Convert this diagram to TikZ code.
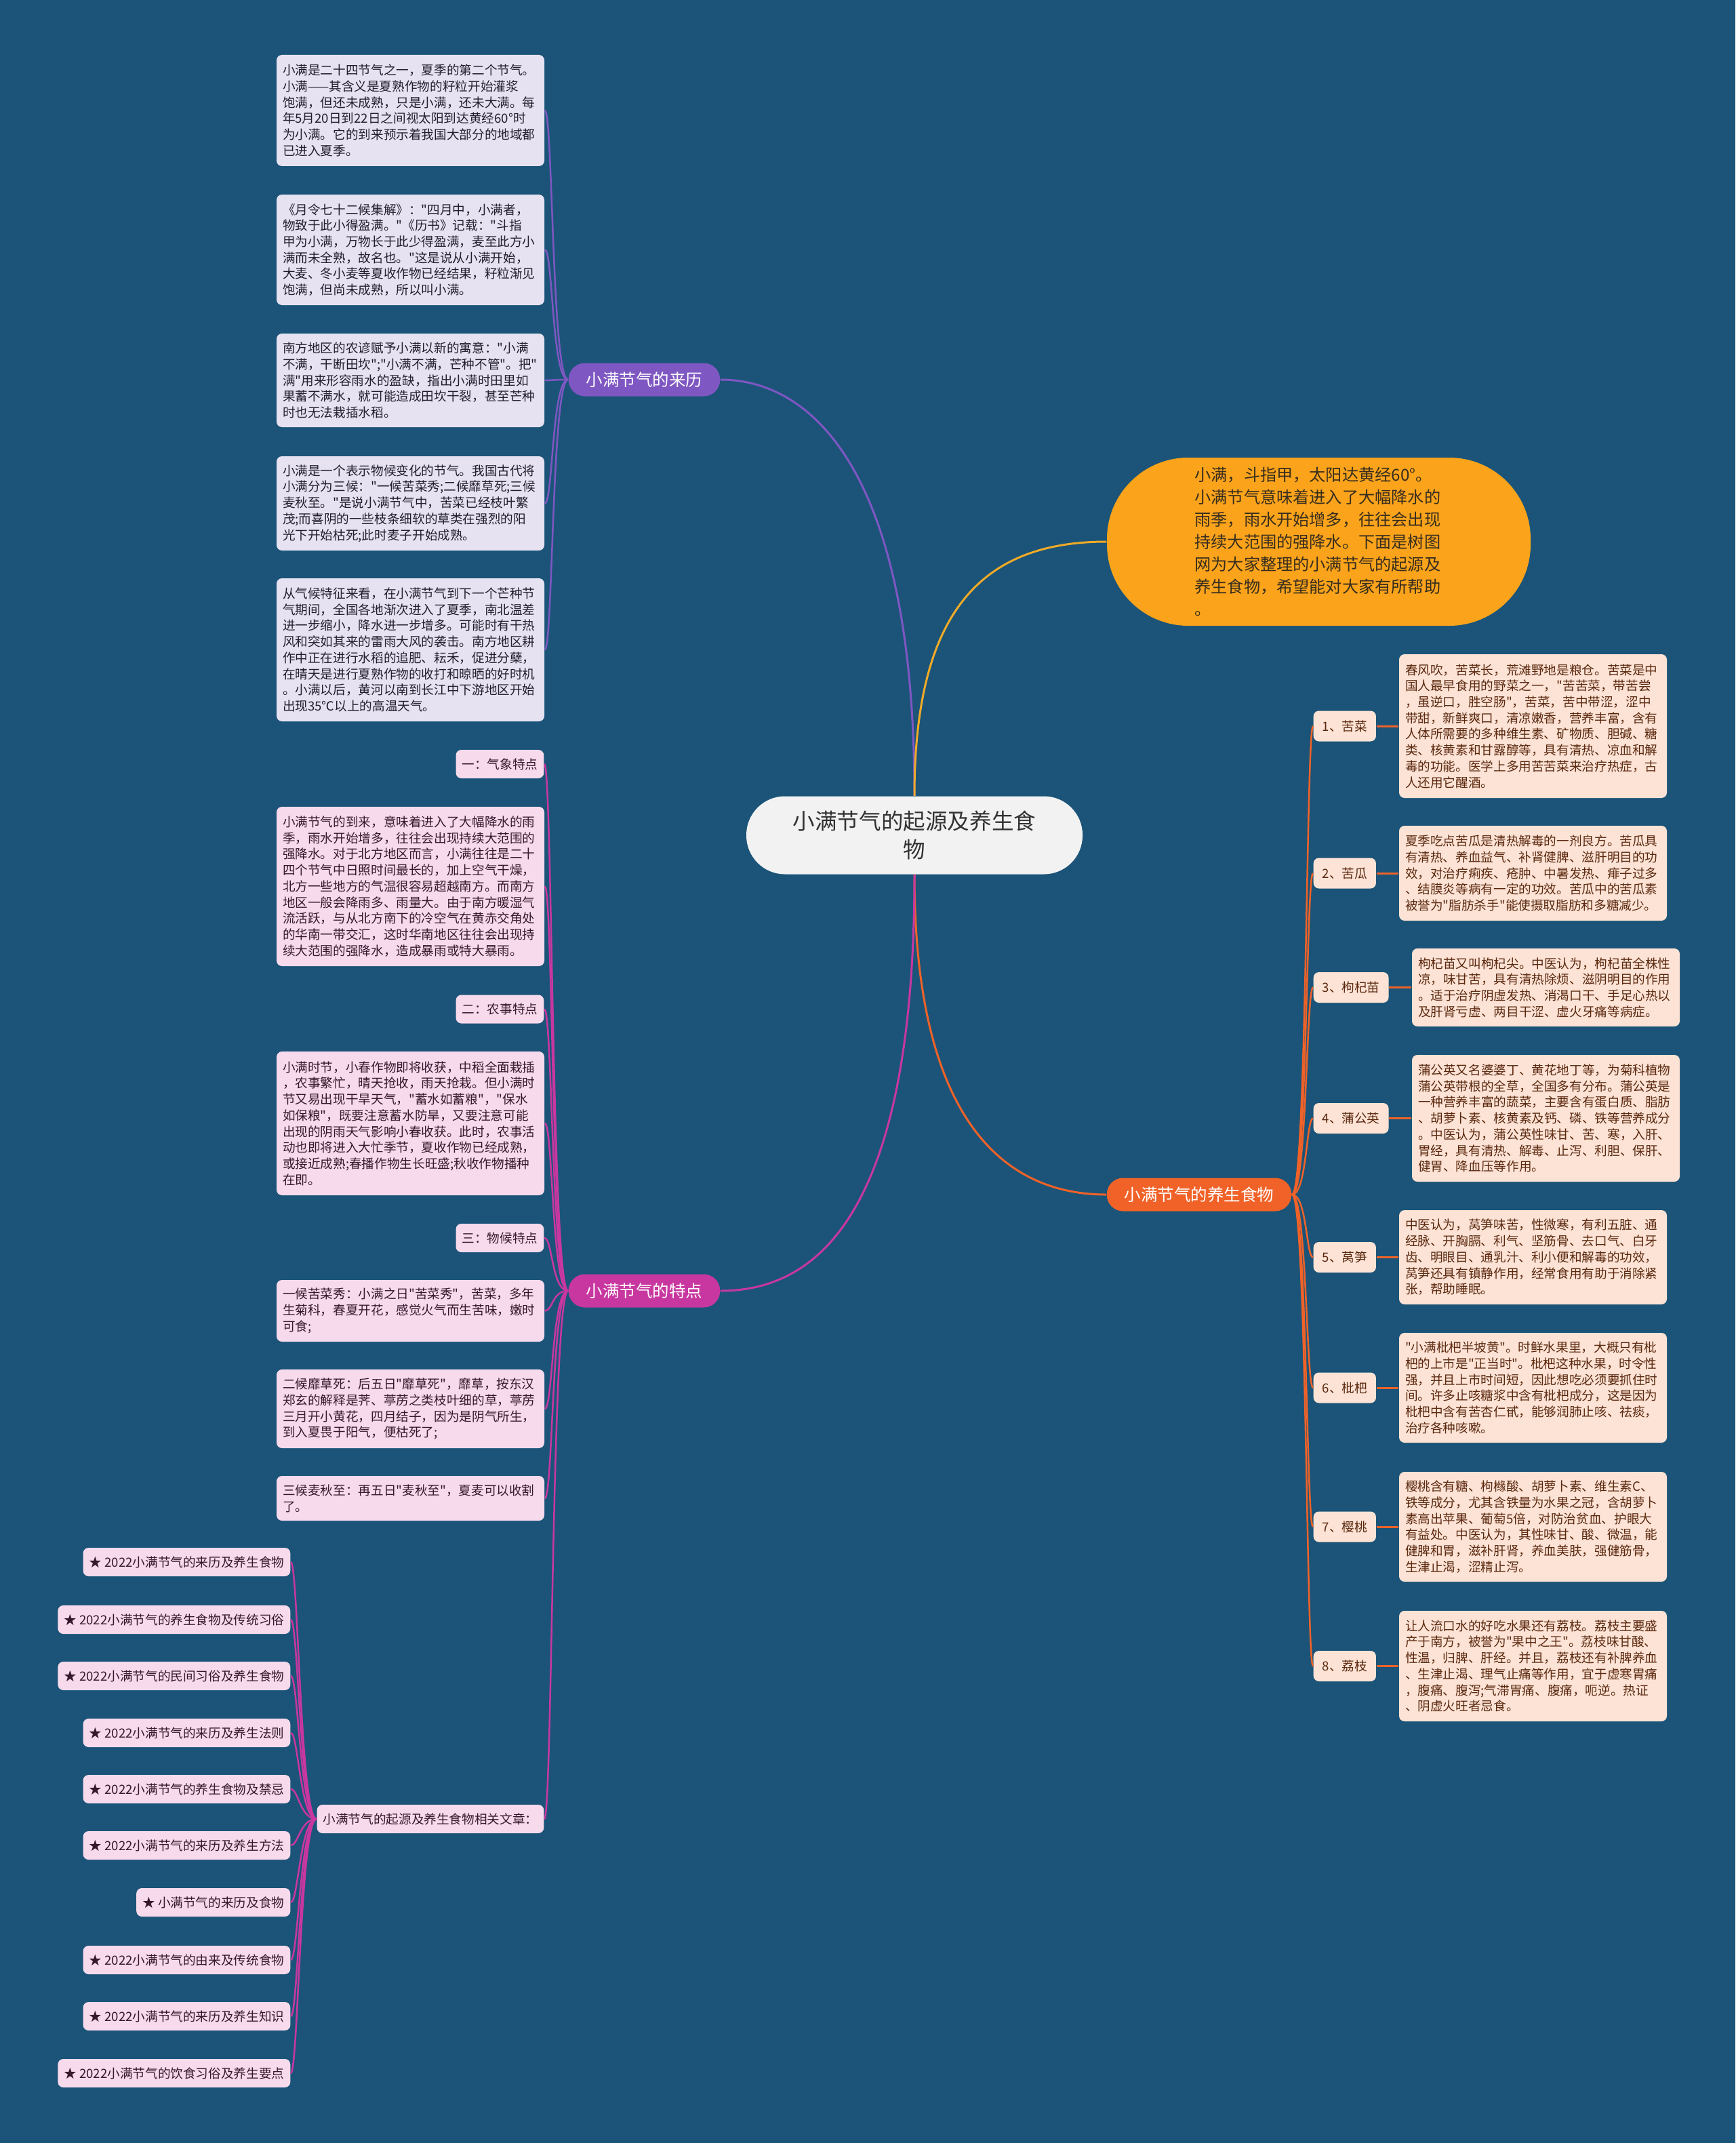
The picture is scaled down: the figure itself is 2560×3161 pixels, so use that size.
\documentclass[tikz,border=0pt]{standalone}
\usepackage{fontspec}
\newfontfamily\cjk{Noto Sans CJK SC}
\usetikzlibrary{calc}

\definecolor{bgblue}{RGB}{27,84,120}
\definecolor{lavfill}{RGB}{230,226,242}
\definecolor{pinkfill}{RGB}{247,218,236}
\definecolor{peachfill}{RGB}{253,227,213}
\definecolor{ctrfill}{RGB}{242,242,242}
\definecolor{introfill}{RGB}{250,163,27}
\definecolor{purp}{RGB}{126,87,194}
\definecolor{mag}{RGB}{200,55,160}
\definecolor{redor}{RGB}{240,98,40}
\definecolor{yell}{RGB}{240,170,40}
\definecolor{lavtext}{RGB}{35,30,45}
\definecolor{pinktext}{RGB}{55,25,45}
\definecolor{peachtext}{RGB}{90,40,15}
\definecolor{introtext}{RGB}{55,45,30}
\definecolor{ctrtext}{RGB}{50,50,50}

\begin{document}
\begin{tikzpicture}[x=0.1mm, y=-0.1mm,
        every node/.style={font=\cjk, inner sep=0pt},
        small/.style={font=\cjk\fontsize{5.3}{6.75}\selectfont},
        descbox/.style={small, rounded corners=0.8mm, minimum width=39.5mm,
            text width=37.7mm, inner xsep=0.9mm, align=left},
        laibox/.style={descbox, fill=lavfill, text=lavtext},
        tebox/.style={descbox, fill=pinkfill, text=pinktext},
        shibox/.style={descbox, fill=peachfill, text=peachtext},
        tetag/.style={small, rounded corners=0.8mm, fill=pinkfill, text=pinktext,
            inner xsep=0.9mm, minimum height=4.2mm},
        shitag/.style={small, rounded corners=0.8mm, fill=peachfill, text=peachtext,
            inner xsep=1.3mm, minimum height=4.5mm},
        branch/.style={font=\cjk\fontsize{6.97}{8}\selectfont, text=white,
            rounded corners=2.4mm, inner xsep=2.6mm, minimum height=4.9mm},
        link/.style={line width=0.25mm},
        mainlink/.style={line width=0.3mm}
    ]
        \fill[bgblue] (0,0) rectangle (2560,3161);
        \useasboundingbox (0,0) rectangle (2560,3161);

        % centre and the intro bubble
        \node[fill=ctrfill, text=ctrtext, rounded corners=5.7mm, minimum width=49.6mm,
            minimum height=11.5mm, align=center,
            font=\cjk\fontsize{9.27}{11.95}\selectfont] (ctr) at (1349,1232)
            {小满节气的起源及养生食\\物};
        \node[fill=introfill, text=introtext, rounded corners=12mm, minimum width=62.5mm,
            minimum height=24.8mm, text width=36.6mm, align=left,
            font=\cjk\fontsize{6.88}{9.36}\selectfont] (intro) at (1945.5,799)
            {小满，斗指甲，太阳达黄经60°。\\
            小满节气意味着进入了大幅降水的\\
            雨季，雨水开始增多，往往会出现\\
            持续大范围的强降水。下面是树图\\
            网为大家整理的小满节气的起源及\\
            养生食物，希望能对大家有所帮助\\
            。};

        \node[branch, fill=purp, minimum width=22.3mm] (laili) at (950.5,560) {小满节气的来历};
        \node[branch, fill=mag, minimum width=22.3mm] (tedian) at (950.5,1904) {小满节气的特点};
        \node[branch, fill=redor, minimum width=27.2mm] (shiwu) at (1769,1762) {小满节气的养生食物};

        % 来历
        \node[laibox, minimum height=16.4mm] (lai1) at (605.5,163)
            {小满是二十四节气之一，夏季的第二个节气。\\
            小满——其含义是夏熟作物的籽粒开始灌浆\\
            饱满，但还未成熟，只是小满，还未大满。每\\
            年5月20日到22日之间视太阳到达黄经60°时\\
            为小满。它的到来预示着我国大部分的地域都\\
            已进入夏季。};
        \node[laibox, minimum height=16.3mm] (lai2) at (605.5,368.5)
            {《月令七十二候集解》："四月中，小满者，\\
            物致于此小得盈满。"《历书》记载："斗指\\
            甲为小满，万物长于此少得盈满，麦至此方小\\
            满而未全熟，故名也。"这是说从小满开始，\\
            大麦、冬小麦等夏收作物已经结果，籽粒渐见\\
            饱满，但尚未成熟，所以叫小满。};
        \node[laibox, minimum height=13.8mm] (lai3) at (605.5,561)
            {南方地区的农谚赋予小满以新的寓意："小满\\
            不满，干断田坎";"小满不满，芒种不管"。把"\\
            满"用来形容雨水的盈缺，指出小满时田里如\\
            果蓄不满水，就可能造成田坎干裂，甚至芒种\\
            时也无法栽插水稻。};
        \node[laibox, minimum height=13.9mm] (lai4) at (605.5,742.5)
            {小满是一个表示物候变化的节气。我国古代将\\
            小满分为三候："一候苦菜秀;二候靡草死;三候\\
            麦秋至。"是说小满节气中，苦菜已经枝叶繁\\
            茂;而喜阴的一些枝条细软的草类在强烈的阳\\
            光下开始枯死;此时麦子开始成熟。};
        \node[laibox, minimum height=21.1mm] (lai5) at (605.5,958.5)
            {从气候特征来看，在小满节气到下一个芒种节\\
            气期间，全国各地渐次进入了夏季，南北温差\\
            进一步缩小，降水进一步增多。可能时有干热\\
            风和突如其来的雷雨大风的袭击。南方地区耕\\
            作中正在进行水稻的追肥、耘禾，促进分蘖，\\
            在晴天是进行夏熟作物的收打和晾晒的好时机\\
            。小满以后，黄河以南到长江中下游地区开始\\
            出现35℃以上的高温天气。};

        % 特点
        \node[tetag, anchor=east] (q1) at (803,1127) {一：气象特点};
        \node[tebox, minimum height=23.5mm] (te1) at (605.5,1307.5)
            {小满节气的到来，意味着进入了大幅降水的雨\\
            季，雨水开始增多，往往会出现持续大范围的\\
            强降水。对于北方地区而言，小满往往是二十\\
            四个节气中日照时间最长的，加上空气干燥，\\
            北方一些地方的气温很容易超越南方。而南方\\
            地区一般会降雨多、雨量大。由于南方暖湿气\\
            流活跃，与从北方南下的冷空气在黄赤交角处\\
            的华南一带交汇，这时华南地区往往会出现持\\
            续大范围的强降水，造成暴雨或特大暴雨。};
        \node[tetag, anchor=east] (q2) at (803,1488.5) {二：农事特点};
        \node[tebox, minimum height=21.2mm] (te2) at (605.5,1657)
            {小满时节，小春作物即将收获，中稻全面栽插\\
            ，农事繁忙，晴天抢收，雨天抢栽。但小满时\\
            节又易出现干旱天气，"蓄水如蓄粮"，"保水\\
            如保粮"，既要注意蓄水防旱，又要注意可能\\
            出现的阴雨天气影响小春收获。此时，农事活\\
            动也即将进入大忙季节，夏收作物已经成熟，\\
            或接近成熟;春播作物生长旺盛;秋收作物播种\\
            在即。};
        \node[tetag, anchor=east] (q3) at (803,1826) {三：物候特点};
        \node[tebox, minimum height=9.1mm] (te3) at (605.5,1933.5)
            {一候苦菜秀：小满之日"苦菜秀"，苦菜，多年\\
            生菊科，春夏开花，感觉火气而生苦味，嫩时\\
            可食;};
        \node[tebox, minimum height=11.6mm] (te4) at (605.5,2078)
            {二候靡草死：后五日"靡草死"，靡草，按东汉\\
            郑玄的解释是荠、葶苈之类枝叶细的草，葶苈\\
            三月开小黄花，四月结子，因为是阴气所生，\\
            到入夏畏于阳气，便枯死了;};
        \node[tebox, minimum height=6.6mm] (te5) at (605.5,2210)
            {三候麦秋至：再五日"麦秋至"，夏麦可以收割\\
            了。};
        \node[tetag, anchor=east] (wenzhang) at (803,2683) {小满节气的起源及养生食物相关文章：};

        \foreach \y/\t [count=\i] in {2304/★ 2022小满节气的来历及养生食物,
            2389/★ 2022小满节气的养生食物及传统习俗,
            2472/★ 2022小满节气的民间习俗及养生食物,
            2556/★ 2022小满节气的来历及养生法则,
            2639/★ 2022小满节气的养生食物及禁忌,
            2722/★ 2022小满节气的来历及养生方法,
            2806/★ 小满节气的来历及食物,
            2891/★ 2022小满节气的由来及传统食物,
            2974/★ 2022小满节气的来历及养生知识,
            3058/★ 2022小满节气的饮食习俗及养生要点}
        \node[tetag, anchor=east] (art\i) at (429,\y) {\t};

        % 养生食物
        \foreach \y/\t [count=\i] in {1071/1、苦菜, 1288/2、苦瓜, 1456.5/3、枸杞苗,
            1649.5/4、蒲公英, 1854.5/5、莴笋, 2047/6、枇杷, 2252/7、樱桃, 2457.5/8、荔枝}
        \node[shitag, anchor=west] (tag\i) at (1937,\y) {\t};

        \node[shibox, minimum height=21.2mm] (f1) at (2261.5,1071)
            {春风吹，苦菜长，荒滩野地是粮仓。苦菜是中\\
            国人最早食用的野菜之一，"苦苦菜，带苦尝\\
            ，虽逆口，胜空肠"，苦菜，苦中带涩，涩中\\
            带甜，新鲜爽口，清凉嫩香，营养丰富，含有\\
            人体所需要的多种维生素、矿物质、胆碱、糖\\
            类、核黄素和甘露醇等，具有清热、凉血和解\\
            毒的功能。医学上多用苦苦菜来治疗热症，古\\
            人还用它醒酒。};
        \node[shibox, minimum height=14mm] (f2) at (2261.5,1288)
            {夏季吃点苦瓜是清热解毒的一剂良方。苦瓜具\\
            有清热、养血益气、补肾健脾、滋肝明目的功\\
            效，对治疗痢疾、疮肿、中暑发热、痱子过多\\
            、结膜炎等病有一定的功效。苦瓜中的苦瓜素\\
            被誉为"脂肪杀手"能使摄取脂肪和多糖减少。};
        \node[shibox, minimum height=11.5mm] (f3) at (2280.5,1456.5)
            {枸杞苗又叫枸杞尖。中医认为，枸杞苗全株性\\
            凉，味甘苦，具有清热除烦、滋阴明目的作用\\
            。适于治疗阴虚发热、消渴口干、手足心热以\\
            及肝肾亏虚、两目干涩、虚火牙痛等病症。};
        \node[shibox, minimum height=18.7mm] (f4) at (2280.5,1649.5)
            {蒲公英又名婆婆丁、黄花地丁等，为菊科植物\\
            蒲公英带根的全草，全国多有分布。蒲公英是\\
            一种营养丰富的蔬菜，主要含有蛋白质、脂肪\\
            、胡萝卜素、核黄素及钙、磷、铁等营养成分\\
            。中医认为，蒲公英性味甘、苦、寒，入肝、\\
            胃经，具有清热、解毒、止泻、利胆、保肝、\\
            健胃、降血压等作用。};
        \node[shibox, minimum height=13.9mm] (f5) at (2261.5,1854.5)
            {中医认为，莴笋味苦，性微寒，有利五脏、通\\
            经脉、开胸膈、利气、坚筋骨、去口气、白牙\\
            齿、明眼目、通乳汁、利小便和解毒的功效，\\
            莴笋还具有镇静作用，经常食用有助于消除紧\\
            张，帮助睡眠。};
        \node[shibox, minimum height=16.2mm] (f6) at (2261.5,2047)
            {"小满枇杷半坡黄"。时鲜水果里，大概只有枇\\
            杷的上市是"正当时"。枇杷这种水果，时令性\\
            强，并且上市时间短，因此想吃必须要抓住时\\
            间。许多止咳糖浆中含有枇杷成分，这是因为\\
            枇杷中含有苦杏仁甙，能够润肺止咳、祛痰，\\
            治疗各种咳嗽。};
        \node[shibox, minimum height=16.2mm] (f7) at (2261.5,2252)
            {樱桃含有糖、枸橼酸、胡萝卜素、维生素C、\\
            铁等成分，尤其含铁量为水果之冠，含胡萝卜\\
            素高出苹果、葡萄5倍，对防治贫血、护眼大\\
            有益处。中医认为，其性味甘、酸、微温，能\\
            健脾和胃，滋补肝肾，养血美肤，强健筋骨，\\
            生津止渴，涩精止泻。};
        \node[shibox, minimum height=16.3mm] (f8) at (2261.5,2457.5)
            {让人流口水的好吃水果还有荔枝。荔枝主要盛\\
            产于南方，被誉为"果中之王"。荔枝味甘酸、\\
            性温，归脾、肝经。并且，荔枝还有补脾养血\\
            、生津止渴、理气止痛等作用，宜于虚寒胃痛\\
            ，腹痛、腹泻;气滞胃痛、腹痛，呃逆。热证\\
            、阴虚火旺者忌食。};

        % connectors
        \draw[purp, mainlink] (ctr.north) .. controls (1349,700) and (1200,560) .. (laili.east);
        \draw[yell, mainlink] (ctr.north) .. controls (1349,900) and (1450,799) .. (intro.west);
        \draw[redor, mainlink] (ctr.south) .. controls (1349,1650) and (1480,1762) .. (shiwu.west);
        \draw[mag, mainlink] (ctr.south) .. controls (1349,1800) and (1200,1904) .. (tedian.east);

        \foreach \n in {lai1,lai2,lai3,lai4,lai5}
        \draw[purp, link] (laili.west) .. controls +(-24,0) and +(12,0) .. (\n.east);
        \foreach \n in {q1,te1,q2,te2,q3,te3,te4,te5,wenzhang}
        \draw[mag, link] (tedian.west) .. controls +(-24,0) and +(12,0) .. (\n.east);
        \foreach \i in {1,...,10}
        \draw[mag, link] (wenzhang.west) .. controls +(-24,0) and +(11,0) .. (art\i.east);
        \foreach \i in {1,...,8}{
            \draw[redor, link] (shiwu.east) .. controls +(22,0) and +(-10,0) .. (tag\i.west);
            \draw[redor, mainlink] (tag\i.east) -- (f\i.west);
        }
    \end{tikzpicture}
\end{document}
